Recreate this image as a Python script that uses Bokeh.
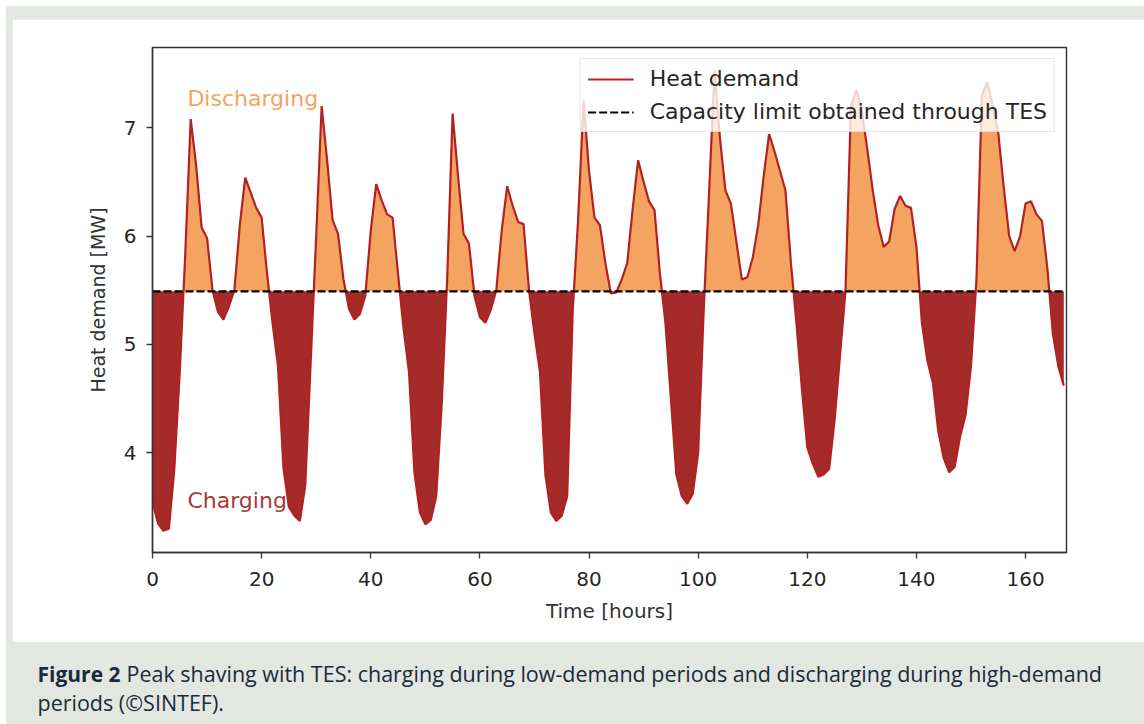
import numpy as np
from bokeh.plotting import figure
from bokeh.models import Range1d, Label, Legend, LegendItem, FixedTicker, Spacer
from bokeh.layouts import column, row
from bokeh.embed import file_html
from bokeh.resources import INLINE

# ---------------- data ----------------
hours = list(range(168))
heat_demand = [
    3.55, 3.35, 3.28, 3.30, 3.85, 4.75, 5.83, 7.08, 6.65, 6.08, 5.98, 5.50,
    5.30, 5.23, 5.35, 5.50, 6.10, 6.54, 6.40, 6.26, 6.17, 5.65, 5.20, 4.80,
    3.86, 3.50, 3.42, 3.37, 3.70, 4.85, 6.00, 7.20, 6.70, 6.15, 6.02, 5.60,
    5.33, 5.23, 5.28, 5.45, 6.05, 6.48, 6.33, 6.20, 6.17, 5.65, 5.15, 4.75,
    3.82, 3.45, 3.34, 3.38, 3.60, 4.45, 5.60, 7.13, 6.55, 6.02, 5.93, 5.45,
    5.25, 5.20, 5.32, 5.50, 6.05, 6.46, 6.28, 6.13, 6.11, 5.50, 5.10, 4.75,
    3.80, 3.45, 3.37, 3.42, 3.60, 5.30, 6.15, 7.25, 6.60, 6.17, 6.10, 5.75,
    5.47, 5.48, 5.60, 5.75, 6.25, 6.70, 6.50, 6.32, 6.24, 5.65, 5.20, 4.50,
    3.80, 3.60, 3.53, 3.62, 4.00, 5.30, 6.40, 7.53, 6.90, 6.42, 6.30, 5.95,
    5.60, 5.62, 5.80, 6.10, 6.55, 6.94, 6.78, 6.60, 6.42, 5.75, 5.20, 4.60,
    4.05, 3.90, 3.78, 3.80, 3.85, 4.30, 4.90, 5.50, 7.20, 7.35, 7.15, 6.80,
    6.42, 6.10, 5.90, 5.95, 6.25, 6.37, 6.28, 6.26, 5.90, 5.20, 4.85, 4.65,
    4.20, 3.95, 3.82, 3.87, 4.15, 4.35, 4.80, 5.60, 7.30, 7.42, 7.20, 6.95,
    6.45, 6.00, 5.86, 6.00, 6.30, 6.32, 6.20, 6.14, 5.70, 5.10, 4.80, 4.62,
]
capacity_limit = 5.49
x_ticks = [0, 20, 40, 60, 80, 100, 120, 140, 160]
y_ticks = [4, 5, 6, 7]
legend_labels = ["Heat demand", "Capacity limit obtained through TES"]
area_labels = ["Discharging", "Charging"]
caption_bold = "Figure 2"
caption_line1 = "Peak shaving with TES: charging during low-demand periods and discharging during high-demand"
caption_line2 = "periods (\u00a9SINTEF)."

# ------------- derived arrays (exact crossings with the limit) -------------
t = np.array(hours, dtype=float)
d = np.array(heat_demand, dtype=float)
L = capacity_limit
xs, ys = [t[0]], [d[0]]
for i in range(len(t) - 1):
    a, b = d[i] - L, d[i + 1] - L
    if a * b < 0:
        xs.append(t[i] + a / (a - b) * (t[i + 1] - t[i]))
        ys.append(L)
    xs.append(t[i + 1])
    ys.append(d[i + 1])
xs = np.array(xs)
ys = np.array(ys)
lim = np.full_like(xs, L)

BG = "#e2e7e1"
FONT = "DejaVu Sans"

# ---------------- chart ----------------
p = figure(width=1132, height=623, x_range=Range1d(0, 167.5), y_range=Range1d(3.08, 7.74),
           output_backend="svg", toolbar_location=None,
           min_border_left=140, min_border_right=78, min_border_top=28, min_border_bottom=90)
p.border_fill_color = "white"
p.background_fill_color = "white"
p.xgrid.visible = False
p.ygrid.visible = False
p.outline_line_color = "#333333"
p.outline_line_width = 1.4

p.varea(x=xs, y1=np.minimum(ys, L), y2=lim, fill_color="#a52a2a", fill_alpha=1.0)
p.varea(x=xs, y1=lim, y2=np.maximum(ys, L), fill_color="#f4a460", fill_alpha=1.0)
r_heat = p.line(t, d, line_color="#b22222", line_width=2.2)
r_lim = p.line(t, np.full_like(t, L), line_color="black", line_width=2.2, line_dash="8 3")

p.add_layout(Label(x=6.4, y=7.27, text=area_labels[0], text_color="#f4a460",
                   text_font=FONT, text_font_size="22px", text_baseline="middle"))
p.add_layout(Label(x=6.4, y=3.56, text=area_labels[1], text_color="#a83a3a",
                   text_font=FONT, text_font_size="22px", text_baseline="middle"))

for ax in (p.xaxis[0], p.yaxis[0]):
    ax.minor_tick_line_color = None
    ax.major_tick_in = 0
    ax.major_tick_out = 6
    ax.major_tick_line_color = "#333333"
    ax.major_tick_line_width = 1.3
    ax.axis_line_color = "#333333"
    ax.axis_line_width = 1.4
    ax.major_label_text_font = FONT
    ax.major_label_text_font_size = "20px"
    ax.major_label_text_color = "#262626"
    ax.axis_label_text_font = FONT
    ax.axis_label_text_font_style = "normal"
    ax.axis_label_text_color = "#333333"
p.xaxis.axis_label_text_font_size = "20px"
p.yaxis.axis_label_text_font_size = "19px"
p.xaxis.major_label_standoff = 13
p.yaxis.major_label_standoff = 10
p.xaxis.ticker = FixedTicker(ticks=x_ticks)
p.yaxis.ticker = FixedTicker(ticks=y_ticks)
p.xaxis.axis_label = "Time [hours]"
p.yaxis.axis_label = "Heat demand [MW]"
p.xaxis.axis_label_standoff = 10
p.yaxis.axis_label_standoff = 12

legend = Legend(items=[LegendItem(label=legend_labels[0], renderers=[r_heat]),
                       LegendItem(label=legend_labels[1], renderers=[r_lim])],
                location="top_right", margin=11, padding=7, spacing=8,
                glyph_width=46, glyph_height=22, label_height=22, label_standoff=16,
                label_text_font=FONT, label_text_font_size="22px", label_text_color="#262626",
                background_fill_color="white", background_fill_alpha=0.8,
                border_line_color="#cccccc", border_line_width=1)
p.add_layout(legend)

# ---------------- caption ----------------
cap = figure(width=1138, height=82, x_range=Range1d(0, 1), y_range=Range1d(0, 1),
             output_backend="svg", toolbar_location=None,
             min_border_left=0, min_border_right=0, min_border_top=0, min_border_bottom=0)
cap.axis.visible = False
cap.grid.visible = False
cap.outline_line_color = None
cap.border_fill_color = BG
cap.background_fill_color = BG
CAPC = "#1b2a3a"
CAPF = "Open Sans"
cap.add_layout(Label(x=31, y=51, x_units="screen", y_units="screen", text=caption_bold,
                     text_font=CAPF, text_font_size="21px", text_font_style="bold",
                     text_color=CAPC, text_baseline="middle"))
cap.add_layout(Label(x=120, y=51, x_units="screen", y_units="screen", text=caption_line1,
                     text_font=CAPF, text_font_size="21.5px",
                     text_color=CAPC, text_baseline="middle"))
cap.add_layout(Label(x=31, y=22, x_units="screen", y_units="screen", text=caption_line2,
                     text_font=CAPF, text_font_size="21.5px",
                     text_color=CAPC, text_baseline="middle"))

inner = column(
    Spacer(width=1138, height=13),
    row(Spacer(width=6, height=623), p),
    cap,
    styles={"background-color": BG},
)
layout = column(
    Spacer(width=1144, height=6),
    row(Spacer(width=6, height=718), inner),
)

open("out.html", "w").write(file_html(layout, INLINE))
